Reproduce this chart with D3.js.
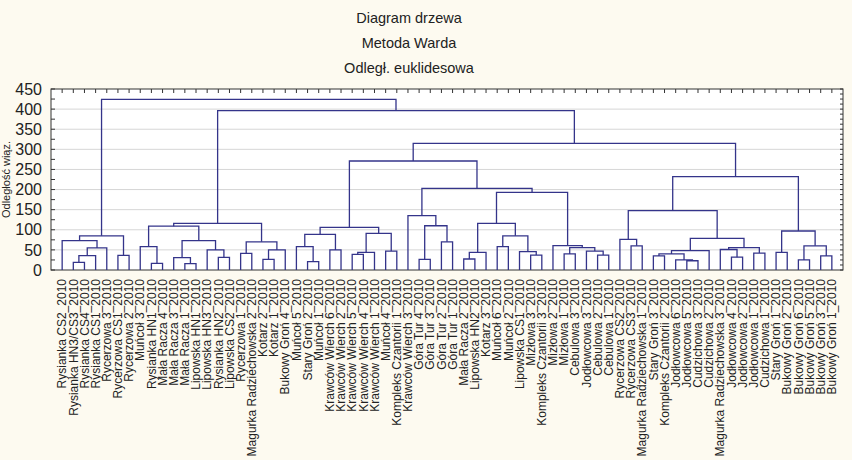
<!DOCTYPE html>
<html><head><meta charset="utf-8">
<script src="https://cdn.jsdelivr.net/npm/d3@7/dist/d3.min.js"></script>
<style>body{margin:0;background:#fdfaf0;} svg{display:block;}</style>
</head><body><svg id="c" width="852" height="460"></svg>
<script>
// ---- data ----
const titleLines = ["Diagram drzewa", "Metoda Warda", "Odległ. euklidesowa"];
const yAxisTitle = "Odległość wiąz.";
const yTicks = [0, 50, 100, 150, 200, 250, 300, 350, 400, 450];
const leafLabels = [
  "Rysianka CS2_2010","Rysianka HN3/CS3_2010","Rysianka CS4_2010","Rysianka CS1_2010",
  "Rycerzowa 3_2010","Rycerzowa CS1_2010","Rycerzowa 2_2010","Muńcoł 3_2010",
  "Rysianka HN1_2010","Mała Racza 4_2010","Mała Racza 3_2010","Mała Racza 1_2010",
  "Lipowska HN1_2010","Lipowska HN3_2010","Rysianka HN2_2010","Lipowska CS2_2010",
  "Rycerzowa 1_2010","Magurka Radziechowska 2_2010","Kotarz 2_2010","Kotarz 1_2010",
  "Bukowy Groń 4_2010","Muńcoł 5_2010","Stary Groń 2_2010","Muńcoł 1_2010",
  "Krawców Wierch 6_2010","Krawców Wierch 2_2010","Krawców Wierch 5_2010","Krawców Wierch 4_2010",
  "Krawców Wierch 1_2010","Muńcoł 4_2010","Kompleks Czantorii 1_2010","Krawców Wierch 3_2010",
  "Góra Tur 4_2010","Góra Tur 3_2010","Góra Tur 2_2010","Góra Tur 1_2010",
  "Mała Racza 2_2010","Lipowska HN2_2010","Kotarz 3_2010","Muńcoł 6_2010",
  "Muńcoł 2_2010","Lipowska CS1_2010","Mizłowa 3_2010","Kompleks Czantorii 3_2010",
  "Mizłowa 2_2010","Mizłowa 1_2010","Cebulowa 3_2010","Jodłowcowa 3_2010",
  "Cebulowa 2_2010","Cebulowa 1_2010","Rycerzowa CS2_2010","Rycerzowa CS3_2010",
  "Magurka Radziechowska 1_2010","Stary Groń 3_2010","Kompleks Czantorii 2_2010","Jodłowcowa 6_2010",
  "Jodłowcowa 5_2010","Cudzichowa 3_2010","Cudzichowa 2_2010","Magurka Radziechowska 3_2010",
  "Jodłowcowa 4_2010","Jodłowcowa 2_2010","Jodłowcowa 1_2010","Cudzichowa 1_2010",
  "Stary Groń 1_2010","Bukowy Groń 2_2010","Bukowy Groń 6_2010","Bukowy Groń 5_2010",
  "Bukowy Groń 3_2010","Bukowy Groń 1_2010"
];
// linkage: [childA, childB, distance]; ids < 70 are leaves, merge k creates node 70+k
const merges = [
  [1, 2, 19], [70, 3, 35.6], [71, 4, 55], [0, 72, 73], [5, 6, 36.5], [73, 74, 85],
  [8, 9, 16.5], [7, 76, 58], [11, 12, 15.7], [10, 78, 30.6], [14, 15, 31.5], [13, 80, 50],
  [79, 81, 73], [77, 82, 109], [16, 17, 41.5], [18, 19, 26.5], [85, 20, 50], [84, 86, 70],
  [83, 87, 116],
  [22, 23, 20.7], [21, 89, 58], [24, 25, 50], [90, 91, 88.7], [26, 27, 39], [93, 28, 44],
  [29, 30, 47], [94, 95, 91], [92, 96, 106],
  [32, 33, 26.5], [34, 35, 70], [98, 99, 110], [31, 100, 135],
  [36, 37, 27.3], [102, 38, 44], [39, 40, 58], [42, 43, 37], [41, 105, 45.6], [104, 106, 85],
  [103, 107, 116], [45, 46, 40], [48, 49, 37], [47, 110, 47], [109, 111, 55.5], [44, 112, 60.5],
  [108, 113, 193], [101, 114, 203], [97, 115, 271],
  [51, 52, 60], [50, 117, 76], [53, 54, 35], [56, 57, 23], [55, 120, 25], [119, 121, 40],
  [122, 58, 48], [60, 61, 32], [59, 124, 51], [62, 63, 42], [125, 126, 55.5], [123, 127, 78.7],
  [118, 128, 147.5], [64, 65, 44], [66, 67, 25], [68, 69, 35], [131, 132, 60], [130, 133, 97],
  [129, 134, 232], [116, 135, 315], [88, 136, 396], [75, 137, 424]
];

// ---- layout ----
const L = 51, R = 843, T = 89, B = 270;
const svg = d3.select("#c");
const n = leafLabels.length;
const x = d3.scalePoint().domain(d3.range(n)).range([L, R]).padding(1);
const y = d3.scaleLinear().domain([0, 450]).range([B, T]);

svg.append("rect").attr("x", L).attr("y", T).attr("width", R - L).attr("height", B - T).attr("fill", "#ffffff");

// gridlines
svg.append("g").selectAll("line").data(yTicks.filter(v => v > 0 && v < 450)).join("line")
  .attr("x1", L).attr("x2", R).attr("y1", d => y(d)).attr("y2", d => y(d))
  .attr("stroke", "#d6d6d6").attr("stroke-width", 1);

// y axis
const yAxis = d3.axisLeft(y).tickValues(yTicks).tickSize(0).tickPadding(9);
const gy = svg.append("g").attr("transform", `translate(${L},0)`).call(yAxis);
gy.select(".domain").remove();
gy.selectAll("text").attr("font-family", "Liberation Sans, Arial, sans-serif")
  .attr("font-size", 16).attr("fill", "#222");

// minor ticks
const tickG = svg.append("g").attr("stroke", "#333").attr("stroke-width", 1);
tickG.selectAll(".lt").data(d3.range(0, 451, 25)).join("line")
  .attr("x1", L).attr("x2", L + 4).attr("y1", d => y(d)).attr("y2", d => y(d));
tickG.selectAll(".rt").data(d3.range(0, 451, 12.5)).join("line")
  .attr("x1", R - 3).attr("x2", R).attr("y1", d => y(d)).attr("y2", d => y(d));
tickG.selectAll(".tt").data(d3.range(n)).join("line")
  .attr("x1", d => x(d)).attr("x2", d => x(d)).attr("y1", T).attr("y2", T + 4);

// frame
svg.append("rect").attr("x", L).attr("y", T).attr("width", R - L).attr("height", B - T)
  .attr("fill", "none").attr("stroke", "#333").attr("stroke-width", 1);

// tree
const nodeX = d3.range(n).map(i => x(i));
const nodeH = d3.range(n).map(() => 0);
const paths = [];
merges.forEach(([a, b, h]) => {
  const xa = nodeX[a], xb = nodeX[b];
  paths.push(`M${xa},${y(nodeH[a])}V${y(h)}H${xb}V${y(nodeH[b])}`);
  nodeX.push((xa + xb) / 2);
  nodeH.push(h);
});
svg.append("g").selectAll("path").data(paths).join("path")
  .attr("d", d => d).attr("fill", "none").attr("stroke", "#34348a").attr("stroke-width", 1.3);

// leaf labels
svg.append("g").selectAll("text").data(leafLabels).join("text")
  .attr("transform", (d, i) => `translate(${x(i)},${B + 9}) rotate(-90)`)
  .attr("dy", "0.35em").attr("text-anchor", "end")
  .attr("font-family", "Liberation Sans, Arial, sans-serif").attr("font-size", 12)
  .attr("fill", "#222").text(d => d);

// titles
svg.append("g").selectAll("text").data(titleLines).join("text")
  .attr("x", 409).attr("y", (d, i) => 23 + i * 25).attr("text-anchor", "middle")
  .attr("font-family", "Liberation Sans, Arial, sans-serif").attr("font-size", 14.5)
  .attr("fill", "#222").text(d => d);

// y axis title, narrow strip at the left edge
svg.append("text").attr("transform", `translate(10,${(T + B) / 2}) rotate(-90)`)
  .attr("text-anchor", "middle").attr("font-family", "Liberation Sans, Arial, sans-serif")
  .attr("font-size", 11).attr("fill", "#222").text(yAxisTitle);
</script></body></html>
